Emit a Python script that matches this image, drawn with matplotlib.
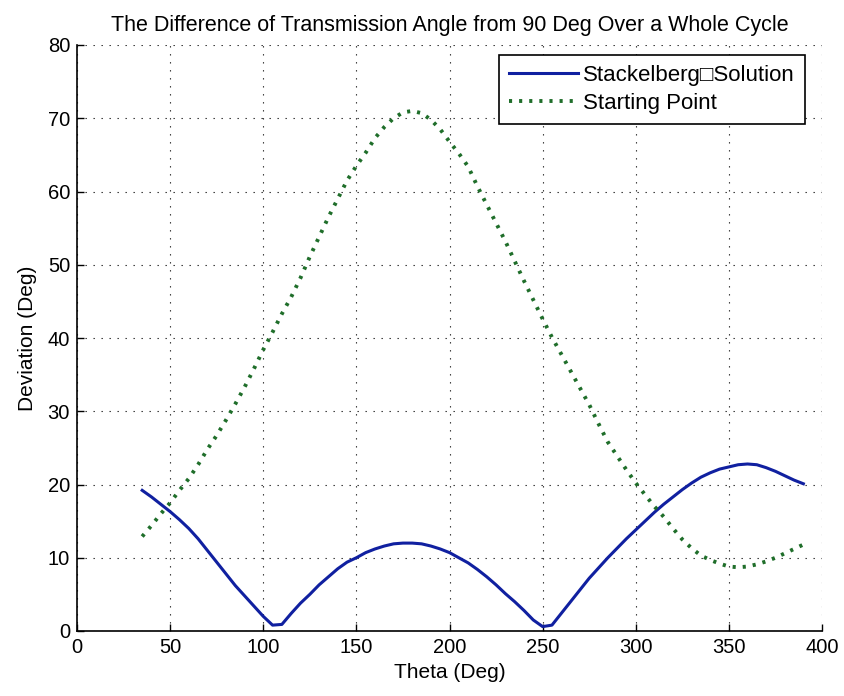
import matplotlib
matplotlib.use("Agg")
import matplotlib.pyplot as plt
import numpy as np

plt.rcParams['font.family'] = ['Liberation Sans', 'DejaVu Sans']

theta = [35, 40, 45, 50, 55, 60, 65, 70, 75, 80, 85, 90, 95, 100, 105, 110, 115, 120,
         125, 130, 135, 140, 145, 150, 155, 160, 165, 170, 175, 180, 185, 190, 195, 200,
         205, 210, 215, 220, 225, 230, 235, 240, 245, 250, 255, 260, 265, 270, 275, 280,
         285, 290, 295, 300, 305, 310, 315, 320, 325, 330, 335, 340, 345, 350, 355, 360,
         365, 370, 375, 380, 385, 390]

stackelberg = [19.2, 18.3, 17.3, 16.3, 15.2, 14.0, 12.6, 11.0, 9.4, 7.8, 6.2, 4.8, 3.4, 2.0,
               0.8, 0.9, 2.4, 3.8, 5.0, 6.3, 7.4, 8.5, 9.4, 10.0, 10.7, 11.2, 11.6, 11.9,
               12.0, 12.0, 11.9, 11.6, 11.2, 10.7, 10.0, 9.3, 8.4, 7.4, 6.3, 5.1, 4.0, 2.8,
               1.5, 0.6, 0.8, 2.4, 4.0, 5.6, 7.2, 8.6, 10.0, 11.3, 12.6, 13.8, 15.0, 16.2,
               17.3, 18.3, 19.3, 20.2, 21.0, 21.6, 22.1, 22.4, 22.7, 22.8, 22.7, 22.3, 21.8,
               21.2, 20.6, 20.1]

starting = [12.9, 14.4, 16.0, 17.5, 19.2, 20.8, 22.7, 24.8, 26.7, 28.8, 31.0, 33.3, 35.8,
            38.4, 40.8, 43.3, 45.6, 48.2, 51.1, 53.8, 56.5, 59.0, 61.5, 63.5, 65.3, 67.3,
            68.8, 70.0, 70.8, 71.0, 70.7, 69.8, 68.5, 66.8, 65.2, 63.4, 60.7, 58.2, 55.7,
            53.2, 50.5, 47.8, 45.2, 42.6, 40.1, 37.8, 35.5, 33.2, 30.9, 28.3, 25.8, 23.9,
            22.0, 20.2, 18.6, 17.0, 15.6, 14.0, 12.5, 11.3, 10.3, 9.7, 9.2, 8.8, 8.7, 8.8,
            9.1, 9.5, 10.0, 10.6, 11.2, 11.8]

xticks = [0, 50, 100, 150, 200, 250, 300, 350, 400]
yticks = [0, 10, 20, 30, 40, 50, 60, 70, 80]

fs = 14.5

fig = plt.figure(figsize=(8.44, 6.96), dpi=100, facecolor='white')
ax = fig.add_axes([77/844, 65/696, 745/844, 586/696])

ax.plot(theta, stackelberg, color='#1020a0', lw=2.2, label='Stackelberg\u25a1Solution', zorder=3)
ax.plot(theta, starting, color='#1f6e2a', lw=2.8, linestyle=(0, (0.8, 1.8)),
        label='Starting Point', zorder=3)

ax.set_xlim(0, 400)
ax.set_ylim(0, 80)
ax.set_xticks(xticks)
ax.set_yticks(yticks)
ax.tick_params(direction='in', length=5, width=1, labelsize=fs, pad=5,
               top=False, right=False)
for s in ['top', 'right']:
    ax.spines[s].set_visible(False)
for s in ['left', 'bottom']:
    ax.spines[s].set_linewidth(1.2)

ax.grid(True, color='#222222', linestyle=(0, (1.2, 6)), linewidth=0.8)
ax.set_axisbelow(True)

ax.set_title('The Difference of Transmission Angle from 90 Deg Over a Whole Cycle',
             fontsize=15.5, pad=10)
ax.set_xlabel('Theta (Deg)', fontsize=15, labelpad=4)
ax.set_ylabel('Deviation (Deg)', fontsize=15, labelpad=8)

leg = ax.legend(loc='upper right', bbox_to_anchor=(0.977, 0.983), fontsize=16,
                frameon=True, fancybox=False, framealpha=1, edgecolor='black',
                handlelength=3.1, handletextpad=0.25, borderpad=0.45, labelspacing=0.3,
                borderaxespad=0)
leg.get_frame().set_linewidth(1.2)

fig.savefig('out.png', dpi=100, facecolor='white')
